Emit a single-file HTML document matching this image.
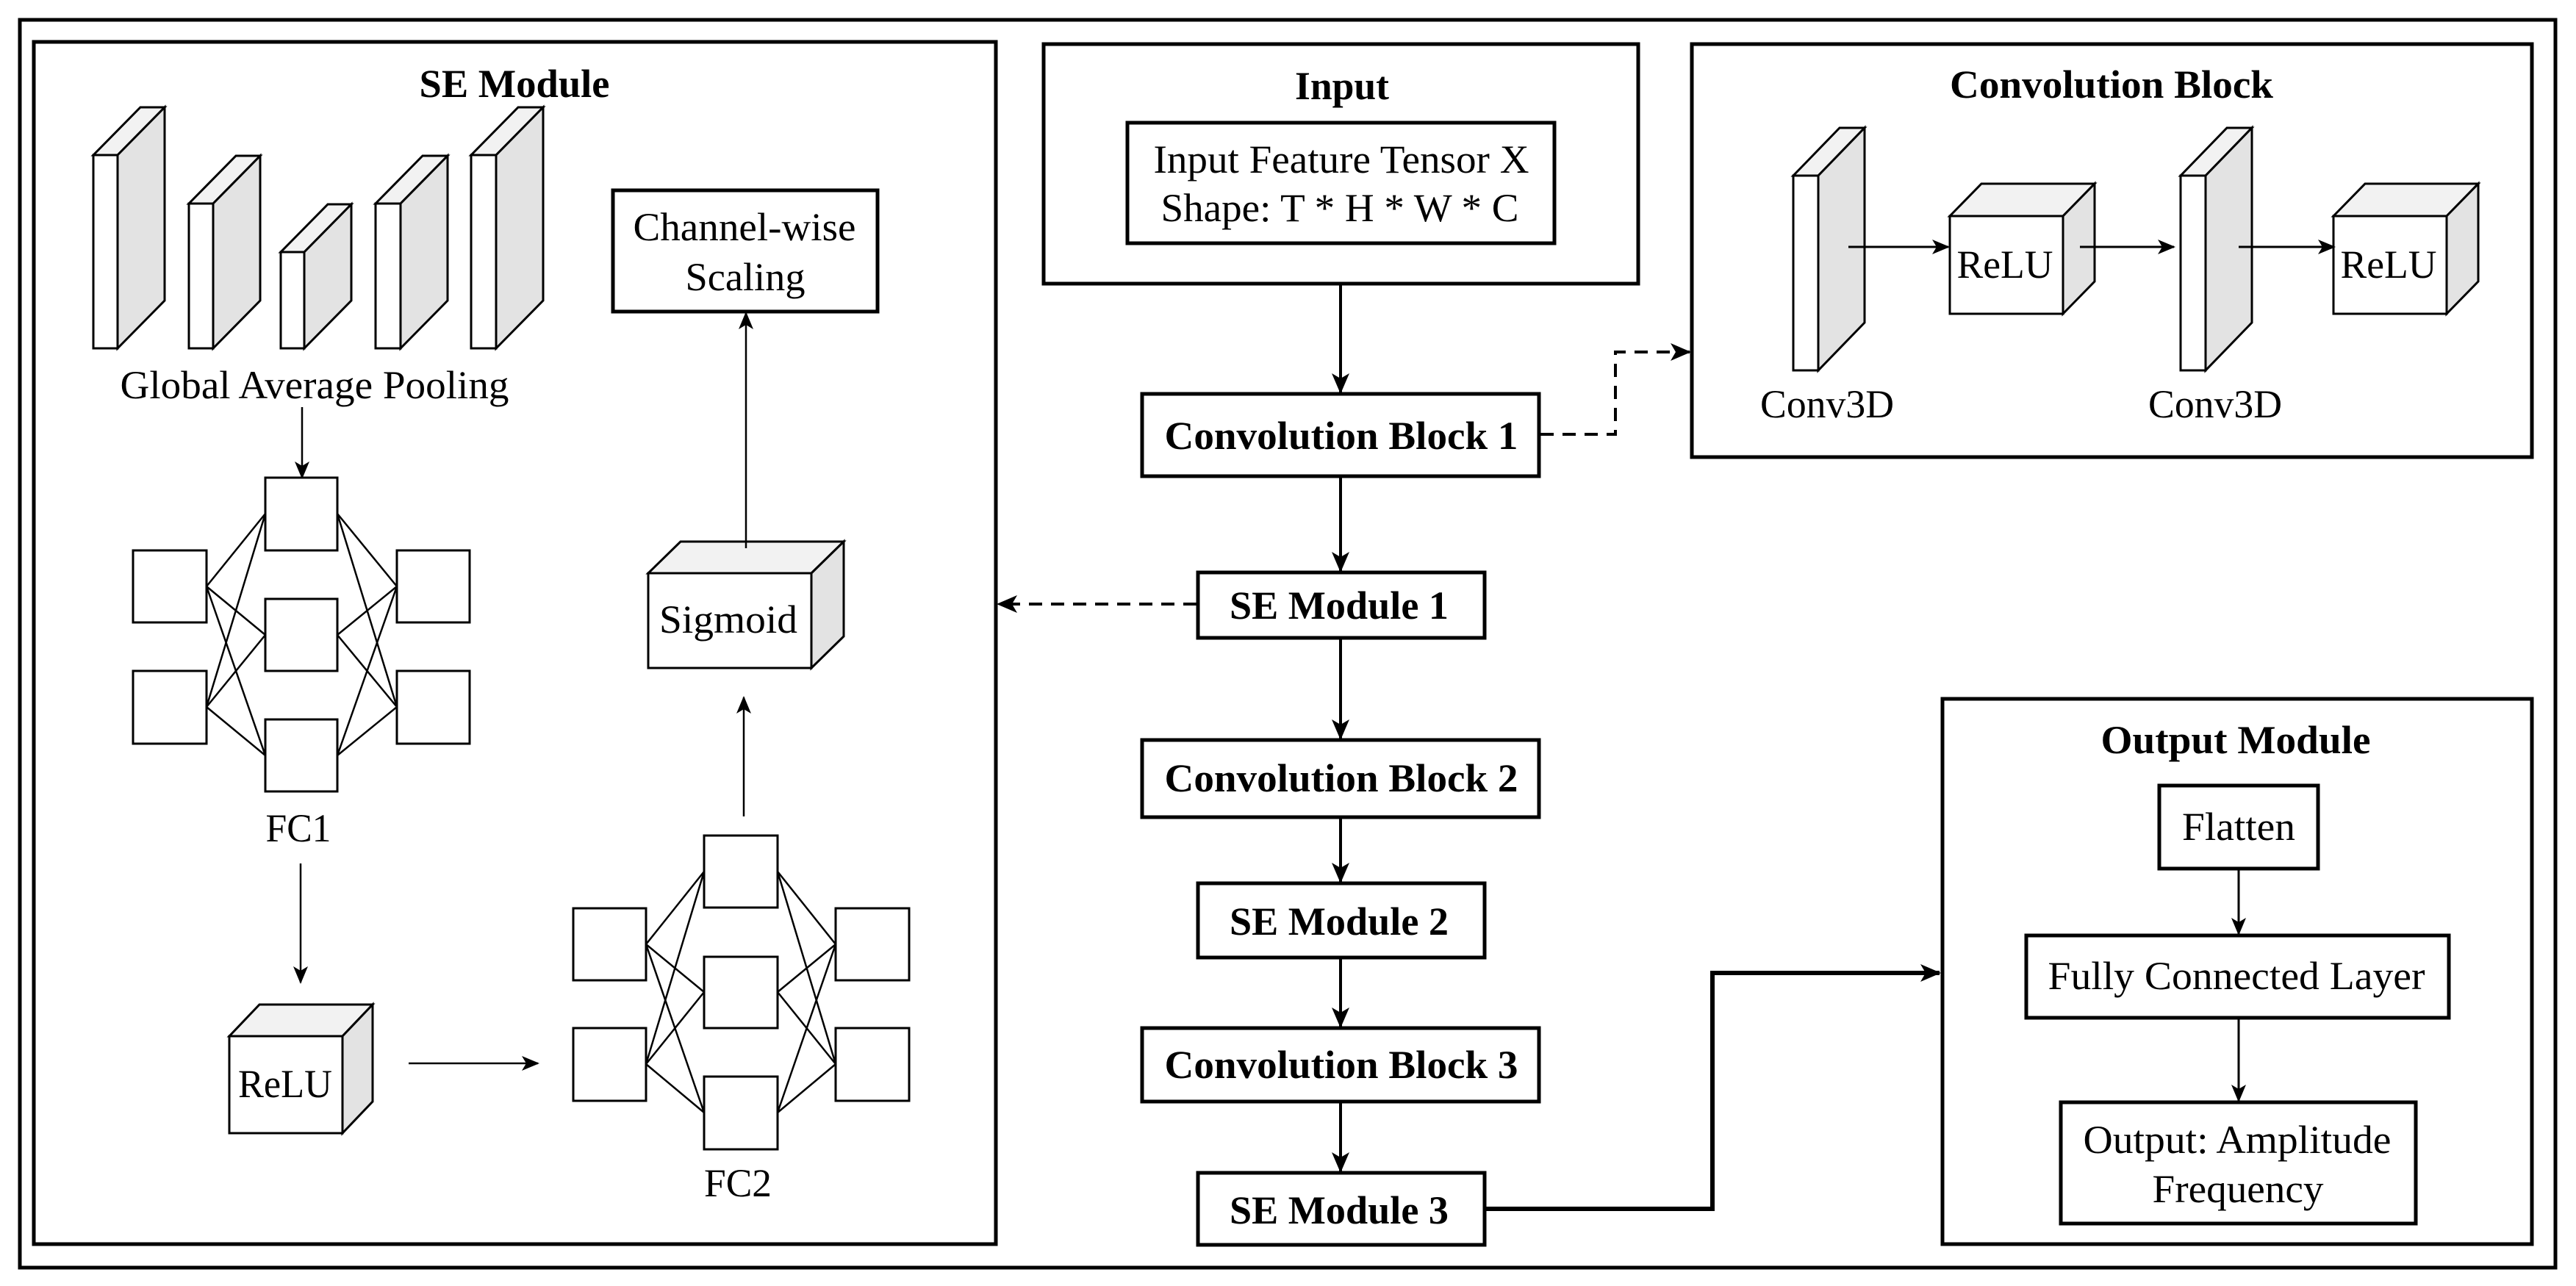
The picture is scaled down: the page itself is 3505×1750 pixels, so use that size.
<!DOCTYPE html>
<html><head><meta charset="utf-8"><style>
html,body{margin:0;padding:0;background:#fff;}
svg{display:block;}
text{font-family:"Liberation Serif",serif;fill:#000;}
.b{font-weight:bold;}
</style></head><body>
<svg width="3505" height="1750" viewBox="0 0 3505 1750" xmlns="http://www.w3.org/2000/svg">
<defs>
<marker id="a" markerUnits="userSpaceOnUse" markerWidth="28" markerHeight="24" refX="26" refY="12" orient="auto"><path d="M0,0 L28,12 L0,24 L7,12 z" fill="#000"/></marker>
<marker id="s" markerUnits="userSpaceOnUse" markerWidth="24" markerHeight="20" refX="22" refY="10" orient="auto"><path d="M0,0 L24,10 L0,20 L6,10 z" fill="#000"/></marker>
</defs>
<rect width="3505" height="1750" fill="#fff"/>
<rect x="27" y="27" width="3450" height="1698" fill="none" stroke="#000" stroke-width="5"/>

<rect x="46" y="57" width="1309" height="1636" fill="none" stroke="#000" stroke-width="5"/>
<text x="700" y="114" class="b" font-size="54" text-anchor="middle" dominant-baseline="central" textLength="259" lengthAdjust="spacingAndGlyphs">SE Module</text>

<g stroke="#000" stroke-width="3" stroke-linejoin="miter">
<polygon points="127,211 191,146 224,146 160,211" fill="#f2f2f2"/><polygon points="160,211 224,146 224,409 160,474" fill="#e3e3e3"/><rect x="127" y="211" width="33" height="263" fill="#fff"/>
<polygon points="257,277 321,212 354,212 290,277" fill="#f2f2f2"/><polygon points="290,277 354,212 354,409 290,474" fill="#e3e3e3"/><rect x="257" y="277" width="33" height="197" fill="#fff"/>
<polygon points="382,343 446,278 478,278 414,343" fill="#f2f2f2"/><polygon points="414,343 478,278 478,409 414,474" fill="#e3e3e3"/><rect x="382" y="343" width="32" height="131" fill="#fff"/>
<polygon points="511,277 575,212 609,212 545,277" fill="#f2f2f2"/><polygon points="545,277 609,212 609,409 545,474" fill="#e3e3e3"/><rect x="511" y="277" width="34" height="197" fill="#fff"/>
<polygon points="641,211 705,146 739,146 675,211" fill="#f2f2f2"/><polygon points="675,211 739,146 739,409 675,474" fill="#e3e3e3"/><rect x="641" y="211" width="34" height="263" fill="#fff"/>
</g>
<text x="428" y="524" font-size="54" text-anchor="middle" dominant-baseline="central" textLength="529" lengthAdjust="spacingAndGlyphs">Global Average Pooling</text>
<line x1="411" y1="554" x2="411" y2="650" stroke="#000" stroke-width="2.5" marker-end="url(#s)"/>

<g stroke="#000" stroke-width="2.5">
<line x1="281" y1="798" x2="361" y2="699"/><line x1="281" y1="798" x2="361" y2="864"/><line x1="281" y1="798" x2="361" y2="1028"/>
<line x1="281" y1="962" x2="361" y2="699"/><line x1="281" y1="962" x2="361" y2="864"/><line x1="281" y1="962" x2="361" y2="1028"/>
<line x1="459" y1="699" x2="540" y2="798"/><line x1="459" y1="864" x2="540" y2="798"/><line x1="459" y1="1028" x2="540" y2="798"/>
<line x1="459" y1="699" x2="540" y2="962"/><line x1="459" y1="864" x2="540" y2="962"/><line x1="459" y1="1028" x2="540" y2="962"/>
</g>
<g fill="#fff" stroke="#000" stroke-width="3">
<rect x="361" y="650" width="98" height="99"/><rect x="361" y="815" width="98" height="98"/><rect x="361" y="979" width="98" height="98"/>
<rect x="181" y="749" width="100" height="98"/><rect x="181" y="913" width="100" height="99"/>
<rect x="540" y="749" width="99" height="98"/><rect x="540" y="913" width="99" height="99"/>
</g>
<text x="406" y="1127" font-size="54" text-anchor="middle" dominant-baseline="central" textLength="89" lengthAdjust="spacingAndGlyphs">FC1</text>
<line x1="409" y1="1175" x2="409" y2="1337" stroke="#000" stroke-width="2.5" marker-end="url(#s)"/>

<g stroke="#000" stroke-width="3">
<polygon points="312,1410 353,1367 507,1367 466,1410" fill="#f2f2f2"/><polygon points="466,1410 507,1367 507,1499 466,1542" fill="#e3e3e3"/><rect x="312" y="1410" width="154" height="132" fill="#fff"/>
</g>
<text x="388" y="1475" font-size="54" text-anchor="middle" dominant-baseline="central" textLength="128" lengthAdjust="spacingAndGlyphs">ReLU</text>
<line x1="556" y1="1447" x2="732" y2="1447" stroke="#000" stroke-width="2.5" marker-end="url(#s)"/>

<g stroke="#000" stroke-width="2.5">
<line x1="879" y1="1285" x2="958" y2="1186"/><line x1="879" y1="1285" x2="958" y2="1350"/><line x1="879" y1="1285" x2="958" y2="1514"/>
<line x1="879" y1="1448" x2="958" y2="1186"/><line x1="879" y1="1448" x2="958" y2="1350"/><line x1="879" y1="1448" x2="958" y2="1514"/>
<line x1="1058" y1="1186" x2="1137" y2="1285"/><line x1="1058" y1="1350" x2="1137" y2="1285"/><line x1="1058" y1="1514" x2="1137" y2="1285"/>
<line x1="1058" y1="1186" x2="1137" y2="1448"/><line x1="1058" y1="1350" x2="1137" y2="1448"/><line x1="1058" y1="1514" x2="1137" y2="1448"/>
</g>
<g fill="#fff" stroke="#000" stroke-width="3">
<rect x="958" y="1137" width="100" height="98"/><rect x="958" y="1302" width="100" height="97"/><rect x="958" y="1465" width="100" height="99"/>
<rect x="780" y="1236" width="99" height="98"/><rect x="780" y="1399" width="99" height="99"/>
<rect x="1137" y="1236" width="100" height="98"/><rect x="1137" y="1399" width="100" height="99"/>
</g>
<text x="1004" y="1610" font-size="54" text-anchor="middle" dominant-baseline="central" textLength="92" lengthAdjust="spacingAndGlyphs">FC2</text>
<line x1="1012" y1="1111" x2="1012" y2="949" stroke="#000" stroke-width="2.5" marker-end="url(#s)"/>

<g stroke="#000" stroke-width="3">
<polygon points="882,780 926,737 1148,737 1104,780" fill="#f2f2f2"/><polygon points="1104,780 1148,737 1148,866 1104,909" fill="#e3e3e3"/><rect x="882" y="780" width="222" height="129" fill="#fff"/>
</g>
<text x="991" y="843" font-size="54" text-anchor="middle" dominant-baseline="central" textLength="188" lengthAdjust="spacingAndGlyphs">Sigmoid</text>
<line x1="1015" y1="746" x2="1015" y2="426" stroke="#000" stroke-width="2.5" marker-end="url(#s)"/>
<rect x="834" y="259" width="360" height="165" fill="#fff" stroke="#000" stroke-width="5"/>
<text x="1013" y="309" font-size="54" text-anchor="middle" dominant-baseline="central" textLength="303" lengthAdjust="spacingAndGlyphs">Channel-wise</text>
<text x="1014" y="377" font-size="54" text-anchor="middle" dominant-baseline="central" textLength="163" lengthAdjust="spacingAndGlyphs">Scaling</text>

<rect x="1420" y="60" width="809" height="326" fill="none" stroke="#000" stroke-width="5"/>
<text x="1826" y="117" class="b" font-size="54" text-anchor="middle" dominant-baseline="central" textLength="128" lengthAdjust="spacingAndGlyphs">Input</text>
<rect x="1534" y="167" width="581" height="164" fill="#fff" stroke="#000" stroke-width="5"/>
<text x="1825" y="217" font-size="54" text-anchor="middle" dominant-baseline="central" textLength="511" lengthAdjust="spacingAndGlyphs">Input Feature Tensor X</text>
<text x="1823" y="283" font-size="54" text-anchor="middle" dominant-baseline="central" textLength="487" lengthAdjust="spacingAndGlyphs">Shape: T * H * W * C</text>

<g stroke="#000" stroke-width="4" fill="none">
<line x1="1824" y1="388" x2="1824" y2="534" marker-end="url(#a)"/>
<line x1="1824" y1="648" x2="1824" y2="777" marker-end="url(#a)"/>
<line x1="1824" y1="868" x2="1824" y2="1005" marker-end="url(#a)"/>
<line x1="1824" y1="1112" x2="1824" y2="1200" marker-end="url(#a)"/>
<line x1="1824" y1="1303" x2="1824" y2="1397" marker-end="url(#a)"/>
<line x1="1824" y1="1499" x2="1824" y2="1594" marker-end="url(#a)"/>
<polyline points="2021,1645 2330,1645 2330,1324 2639,1324" stroke-width="6" marker-end="url(#a)"/>
<polyline points="2096,591 2198,591 2198,479 2299,479" stroke-dasharray="18,12" marker-end="url(#a)"/>
<line x1="1628" y1="822" x2="1358" y2="822" stroke-dasharray="18,12" marker-end="url(#a)"/>
</g>

<g fill="#fff" stroke="#000" stroke-width="5">
<rect x="1554" y="536" width="540" height="112"/>
<rect x="1630" y="779" width="390" height="89"/>
<rect x="1554" y="1007" width="540" height="105"/>
<rect x="1630" y="1202" width="390" height="101"/>
<rect x="1554" y="1399" width="540" height="100"/>
<rect x="1630" y="1596" width="390" height="98"/>
</g>
<g font-size="54" text-anchor="middle" dominant-baseline="central">
<text x="1825" y="593" class="b" textLength="481" lengthAdjust="spacingAndGlyphs">Convolution Block 1</text>
<text x="1822" y="824" class="b" textLength="298" lengthAdjust="spacingAndGlyphs">SE Module 1</text>
<text x="1825" y="1059" class="b" textLength="481" lengthAdjust="spacingAndGlyphs">Convolution Block 2</text>
<text x="1822" y="1254" class="b" textLength="298" lengthAdjust="spacingAndGlyphs">SE Module 2</text>
<text x="1825" y="1449" class="b" textLength="481" lengthAdjust="spacingAndGlyphs">Convolution Block 3</text>
<text x="1822" y="1647" class="b" textLength="298" lengthAdjust="spacingAndGlyphs">SE Module 3</text>
</g>

<rect x="2302" y="60" width="1143" height="562" fill="none" stroke="#000" stroke-width="5"/>
<text x="2873" y="115" class="b" font-size="54" text-anchor="middle" dominant-baseline="central" textLength="440" lengthAdjust="spacingAndGlyphs">Convolution Block</text>
<g stroke="#000" stroke-width="3">
<polygon points="2440,239 2503,174 2537,174 2474,239" fill="#f2f2f2"/><polygon points="2474,239 2537,174 2537,439 2474,504" fill="#e3e3e3"/><rect x="2440" y="239" width="34" height="265" fill="#fff"/>
<polygon points="2967,239 3030,174 3064,174 3001,239" fill="#f2f2f2"/><polygon points="3001,239 3064,174 3064,439 3001,504" fill="#e3e3e3"/><rect x="2967" y="239" width="34" height="265" fill="#fff"/>
<polygon points="2653,294 2696,250 2850,250 2807,294" fill="#f2f2f2"/><polygon points="2807,294 2850,250 2850,383 2807,427" fill="#e3e3e3"/><rect x="2653" y="294" width="154" height="133" fill="#fff"/>
<polygon points="3175,294 3218,250 3372,250 3329,294" fill="#f2f2f2"/><polygon points="3329,294 3372,250 3372,383 3329,427" fill="#e3e3e3"/><rect x="3175" y="294" width="154" height="133" fill="#fff"/>
</g>
<g stroke="#000" stroke-width="3">
<line x1="2515" y1="336" x2="2651" y2="336" marker-end="url(#s)"/>
<line x1="2830" y1="336" x2="2958" y2="336" marker-end="url(#s)"/>
<line x1="3046" y1="336" x2="3176" y2="336" marker-end="url(#s)"/>
</g>
<text x="2728" y="360" font-size="54" text-anchor="middle" dominant-baseline="central" textLength="131" lengthAdjust="spacingAndGlyphs">ReLU</text>
<text x="3250" y="360" font-size="54" text-anchor="middle" dominant-baseline="central" textLength="131" lengthAdjust="spacingAndGlyphs">ReLU</text>
<text x="2486" y="550" font-size="54" text-anchor="middle" dominant-baseline="central" textLength="182" lengthAdjust="spacingAndGlyphs">Conv3D</text>
<text x="3014" y="550" font-size="54" text-anchor="middle" dominant-baseline="central" textLength="182" lengthAdjust="spacingAndGlyphs">Conv3D</text>

<rect x="2643" y="951" width="802" height="742" fill="none" stroke="#000" stroke-width="5"/>
<text x="3042" y="1007" class="b" font-size="54" text-anchor="middle" dominant-baseline="central" textLength="367" lengthAdjust="spacingAndGlyphs">Output Module</text>
<rect x="2938" y="1069" width="216" height="113" fill="#fff" stroke="#000" stroke-width="5"/>
<text x="3046" y="1125" font-size="54" text-anchor="middle" dominant-baseline="central" textLength="154" lengthAdjust="spacingAndGlyphs">Flatten</text>
<line x1="3046" y1="1182" x2="3046" y2="1271" stroke="#000" stroke-width="3" marker-end="url(#s)"/>
<rect x="2757" y="1273" width="575" height="112" fill="#fff" stroke="#000" stroke-width="5"/>
<text x="3043" y="1328" font-size="54" text-anchor="middle" dominant-baseline="central" textLength="513" lengthAdjust="spacingAndGlyphs">Fully Connected Layer</text>
<line x1="3046" y1="1385" x2="3046" y2="1498" stroke="#000" stroke-width="3" marker-end="url(#s)"/>
<rect x="2804" y="1500" width="483" height="165" fill="#fff" stroke="#000" stroke-width="5"/>
<text x="3044" y="1551" font-size="54" text-anchor="middle" dominant-baseline="central" textLength="419" lengthAdjust="spacingAndGlyphs">Output: Amplitude</text>
<text x="3045" y="1618" font-size="54" text-anchor="middle" dominant-baseline="central" textLength="233" lengthAdjust="spacingAndGlyphs">Frequency</text>
</svg>
</body></html>
